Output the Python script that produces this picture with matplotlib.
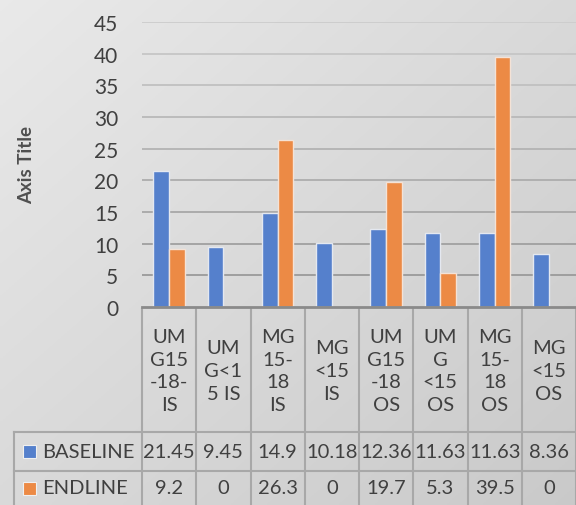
import matplotlib.pyplot as plt
import matplotlib.transforms as mtransforms
import numpy as np

categories = ["UM\nG15\n-18-\nIS", "UM\nG<1\n5 IS", "MG\n15-\n18\nIS", "MG\n<15\nIS",
              "UM\nG15\n-18\nOS", "UM\nG\n<15\nOS", "MG\n15-\n18\nOS", "MG\n<15\nOS"]
baseline = [21.45, 9.45, 14.9, 10.18, 12.36, 11.63, 11.63, 8.36]
endline = [9.2, 0, 26.3, 0, 19.7, 5.3, 39.5, 0]
series_names = ["BASELINE", "ENDLINE"]
yticks = [0, 5, 10, 15, 20, 25, 30, 35, 40, 45]

W, H = 576, 506
blue = "#5580cc"
orange = "#ec8a45"
txt = "#404040"
line_c = "#a8a8a8"

plt.rcParams['font.family'] = ['Lato', 'DejaVu Sans']

fig = plt.figure(figsize=(W / 100, H / 100), dpi=100)

# gradient background, light top-left to darker bottom-right
bg = fig.add_axes([0, 0, 1, 1], zorder=-10)
gx, gy = np.meshgrid(np.linspace(0, 1, 200), np.linspace(0, 1, 200))
g = 0.915 - 0.125 * (gx + gy) / 2
bg.imshow(np.dstack([g, g, g]), extent=[0, 1, 0, 1], aspect="auto", origin="upper")
bg.axis("off")


def fy(py):
    return 1 - py / H


def fx(px):
    return px / W


ax = fig.add_axes([fx(142), fy(308), 1 - fx(142), fy(23) - fy(308)])
ax.patch.set_alpha(0)
x = np.arange(len(categories))
bw = 0.29
ax.bar(x - bw / 2, baseline, bw, color=blue, edgecolor="#e4e8f0", linewidth=1.0, zorder=3)
ax.bar(x + bw / 2, endline, bw, color=orange, edgecolor="#f4e2d6", linewidth=1.0, zorder=3)
ax.set_xlim(-0.5, len(categories) - 0.5)
ax.set_ylim(0, 45)
ax.set_yticks(yticks)
ax.set_xticks([])
for t in yticks[1:]:
    shade = 0.58 + 0.22 * (t / 45)
    ax.axhline(t, color=(shade, shade, shade), linewidth=1.3, zorder=1)
for s in ["top", "right", "left", "bottom"]:
    ax.spines[s].set_visible(False)
ax.axhline(0, color="#8a8a8a", linewidth=2, zorder=4, clip_on=False)
ax.tick_params(axis="y", length=0, pad=17, labelsize=15, labelcolor=txt)
fig.text(fx(27), fy(165), "Axis Title", rotation=90, ha="center", va="center",
         fontsize=13.5, fontweight="bold", color="#505050")

# data table below the chart
tr = mtransforms.blended_transform_factory(ax.transData, fig.transFigure)
n = len(categories)
y_top, y_r1, y_r2, y_bot = fy(310), fy(433), fy(472), fy(506)
for i in range(n + 1):
    xb = i - 0.5
    ax.plot([xb, xb], [y_top, y_bot], transform=tr, color=line_c, lw=1.5, clip_on=False)
for yy in [y_r1, y_r2]:
    fig.add_artist(plt.Line2D([fx(14), 1], [yy, yy], color=line_c, lw=1.5))
fig.add_artist(plt.Line2D([fx(14), fx(14)], [y_r1, y_bot], color=line_c, lw=1.5))

for i, c in enumerate(categories):
    ax.text(x[i], (y_top + y_r1) / 2, c, transform=tr, ha="center", va="center",
            fontsize=14.5, color=txt, linespacing=1.42)
    ax.text(x[i], (y_r1 + y_r2) / 2, f"{baseline[i]:g}", transform=tr, ha="center",
            va="center", fontsize=14.5, color=txt)
    ax.text(x[i], (y_r2 + y_bot) / 2, f"{endline[i]:g}", transform=tr, ha="center",
            va="center", fontsize=14.5, color=txt)

for name, col, (ya, yb) in zip(series_names, [blue, orange], [(y_r1, y_r2), (y_r2, y_bot)]):
    yc = (ya + yb) / 2
    fig.add_artist(plt.Rectangle((fx(23), yc - 6.5 / H), 13 / W, 13 / H,
                                 facecolor=col, edgecolor="#f0f0f0", lw=0.8))
    fig.text(fx(42), yc, name, ha="left", va="center", fontsize=14.5, color=txt)

fig.savefig("out.png", dpi=100)
